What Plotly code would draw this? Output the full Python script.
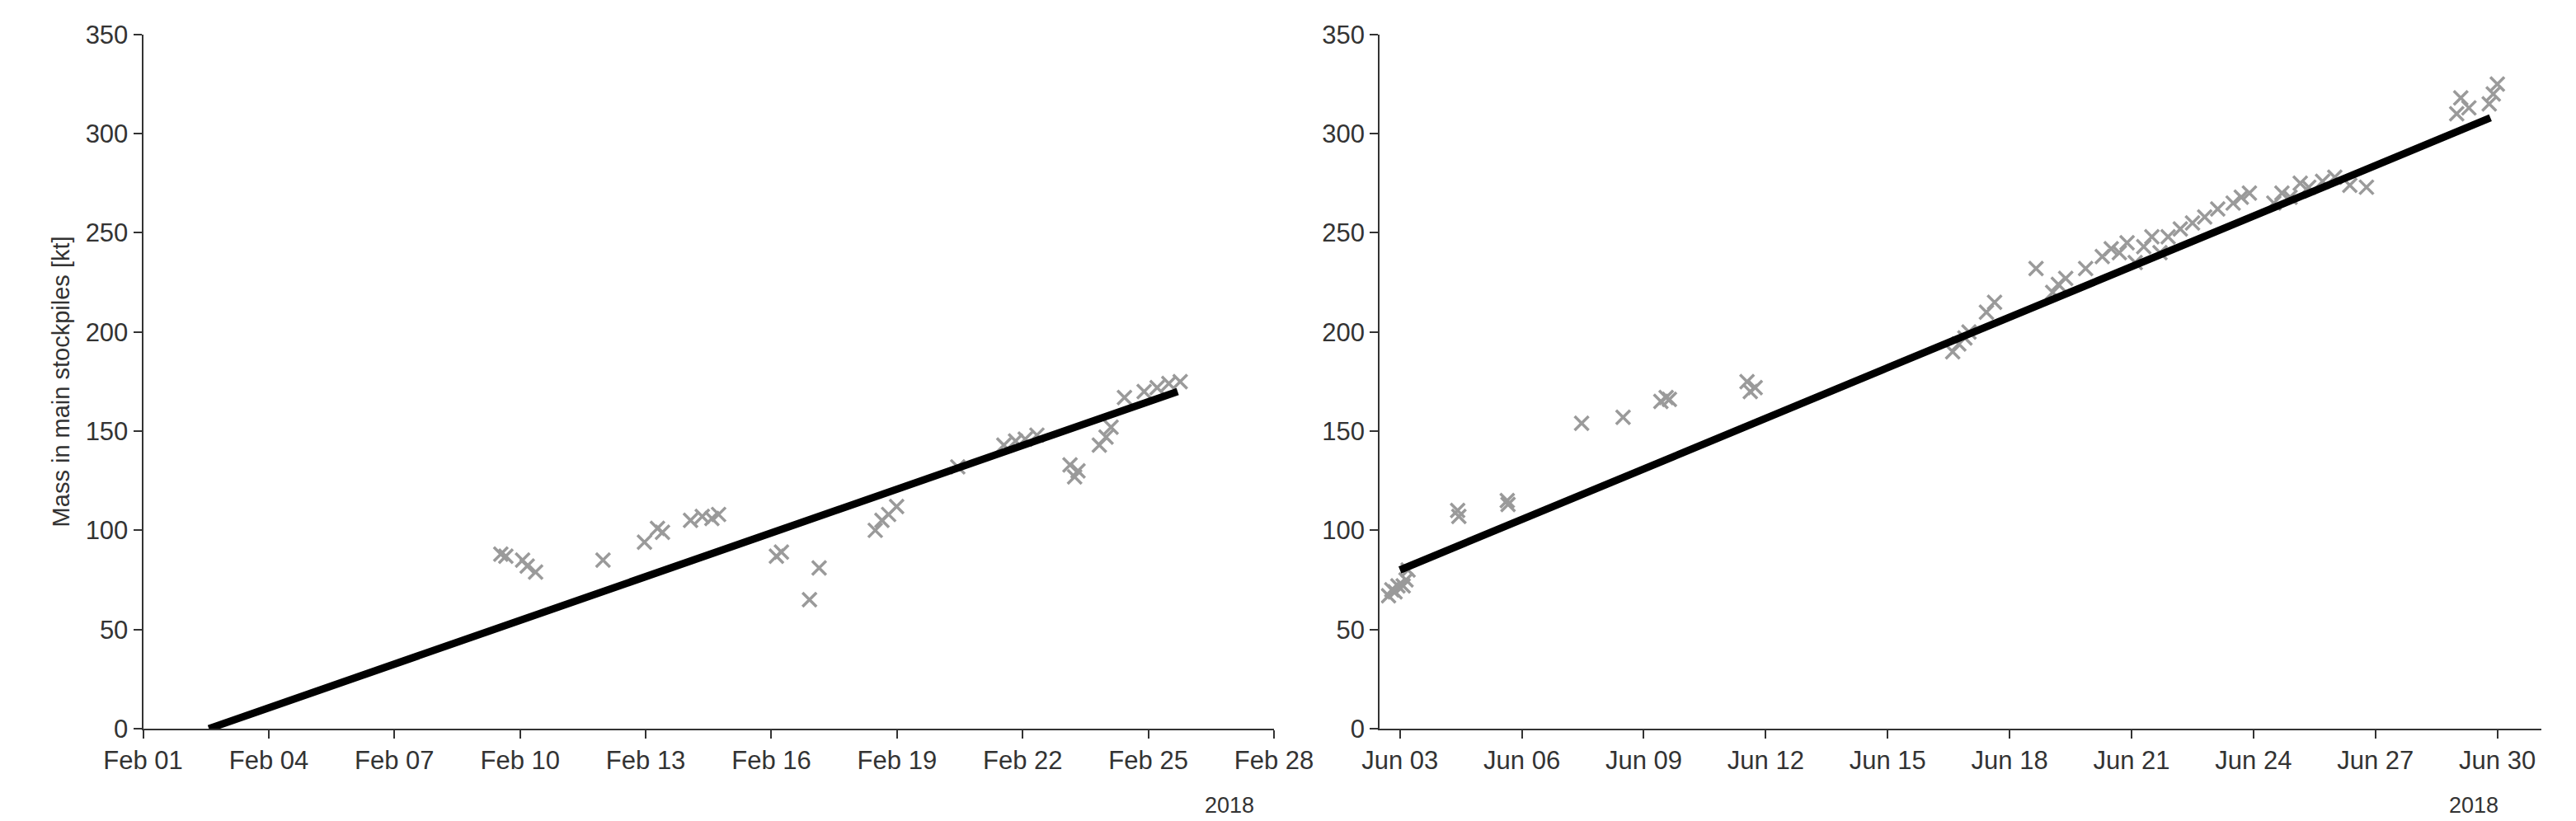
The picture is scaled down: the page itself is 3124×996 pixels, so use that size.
import plotly.graph_objects as go
import pandas as pd

# Left panel (February 2018): day-of-month (fractional) and mass [kt]
feb_days = [9.54, 9.66, 10.06, 10.17, 10.37, 11.98, 12.97, 13.28, 13.40, 14.07, 14.35, 14.58, 14.74,
            16.12, 16.24, 16.91, 17.14, 18.48, 18.64, 18.80, 18.99, 20.45, 21.55, 21.83, 22.06, 22.34,
            23.13, 23.24, 23.32, 23.83, 23.99, 24.11, 24.43, 24.90, 25.21, 25.49, 25.76]
feb_mass = [88, 87, 85, 82, 79, 85, 94, 101, 99, 105, 107, 106, 108,
            87, 89, 65, 81, 100, 105, 108, 112, 132, 143, 145, 146, 148,
            133, 127, 130, 143, 147, 152, 167, 170, 172, 174, 175]
feb_fit_days = [2.57, 25.7]
feb_fit_mass = [0, 170]

# Right panel (June 2018)
jun_days = [2.72, 2.80, 2.88, 2.95, 3.08, 3.15, 3.20, 4.42, 4.45, 5.64, 5.66, 7.47, 8.49,
            9.42, 9.55, 9.63, 11.54, 11.62, 11.74, 16.6, 16.75, 16.9, 17.0, 17.43, 17.63, 18.65,
            19.06, 19.2, 19.38, 19.87, 20.28, 20.5, 20.7, 20.89, 21.09, 21.3, 21.5, 21.7,
            21.9, 22.2, 22.5, 22.8, 23.12, 23.5, 23.7, 23.9, 24.5, 24.7, 24.9, 25.15,
            25.36, 25.7, 26.0, 26.37, 26.78, 29.0, 29.1, 29.3, 29.8, 29.9, 30.0]
jun_mass = [67, 70, 69, 72, 72, 75, 80, 110, 107, 115, 113, 154, 157,
            165, 167, 166, 175, 170, 172, 190, 194, 197, 200, 210, 215, 232,
            220, 224, 227, 232, 238, 242, 240, 245, 235, 243, 248, 240,
            248, 252, 255, 258, 262, 265, 268, 270, 265, 270, 268, 275,
            273, 276, 278, 274, 273, 310, 318, 313, 315, 320, 325]
jun_fit_days = [3.0, 29.83]
jun_fit_mass = [80, 308]

def to_dates(month, days):
    base = pd.Timestamp(f"2018-{month:02d}-01")
    return [base + pd.Timedelta(days=d - 1) for d in days]

fig = go.Figure()
marker = dict(symbol="x-thin", size=17, line=dict(width=3.5, color="#9a9a9a"), color="#9a9a9a")
fig.add_trace(go.Scatter(x=to_dates(2, feb_days), y=feb_mass, mode="markers", marker=marker,
                         xaxis="x", yaxis="y", showlegend=False))
fig.add_trace(go.Scatter(x=to_dates(2, feb_fit_days), y=feb_fit_mass, mode="lines",
                         line=dict(color="black", width=9), xaxis="x", yaxis="y", showlegend=False))
fig.add_trace(go.Scatter(x=to_dates(6, jun_days), y=jun_mass, mode="markers", marker=marker,
                         xaxis="x2", yaxis="y2", showlegend=False))
fig.add_trace(go.Scatter(x=to_dates(6, jun_fit_days), y=jun_fit_mass, mode="lines",
                         line=dict(color="black", width=9), xaxis="x2", yaxis="y2", showlegend=False))

day_ms = 86400000
tf = dict(size=31, color="#333")
common_x = dict(type="date", dtick=3 * day_ms, tickformat="%b %d", showline=True, linecolor="#333",
                linewidth=2, ticks="outside", ticklen=10, tickwidth=2, tickcolor="#333",
                showgrid=False, zeroline=False, tickfont=tf, automargin=False)
common_y = dict(range=[0, 350], dtick=50, showline=True, linecolor="#333", linewidth=2,
                ticks="outside", ticklen=10, tickwidth=2, tickcolor="#333", showgrid=False,
                zeroline=False, tickfont=tf, domain=[0.1205, 0.966], automargin=False)

fig.update_layout(
    width=3124, height=996, margin=dict(l=0, r=0, t=0, b=0),
    plot_bgcolor="white", paper_bgcolor="white",
    font=dict(family="Liberation Sans, Arial, sans-serif", color="#333"),
    xaxis=dict(common_x, domain=[0.053, 0.492], range=["2018-02-01", "2018-02-28"], tick0="2018-02-01"),
    yaxis=dict(common_y, anchor="x",
               title=dict(text="Mass in main stockpiles [kt]", font=dict(size=29, color="#333"), standoff=10)),
    xaxis2=dict(common_x, domain=[0.533, 0.984], range=["2018-06-02 12:00", "2018-07-01 02:00"],
                tick0="2018-06-03", anchor="y2"),
    yaxis2=dict(common_y, anchor="x2"),
    annotations=[
        dict(text="2018", x=0.485, y=0.01, xref="paper", yref="paper", xanchor="right", yanchor="bottom",
             showarrow=False, font=dict(size=27, color="#333")),
        dict(text="2018", x=0.968, y=0.01, xref="paper", yref="paper", xanchor="right", yanchor="bottom",
             showarrow=False, font=dict(size=27, color="#333")),
    ],
)
fig.write_html("out.html")
